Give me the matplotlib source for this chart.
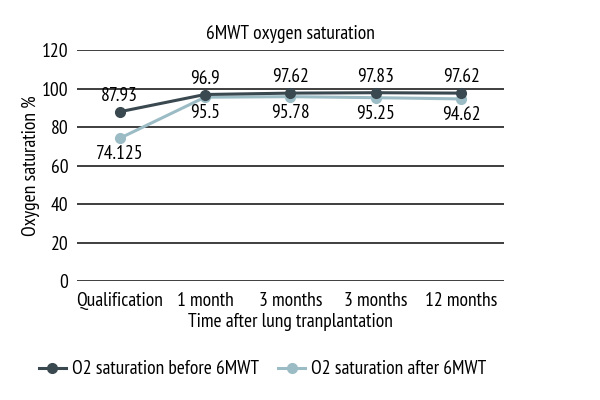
import matplotlib
matplotlib.use("Agg")
import matplotlib.pyplot as plt

# data
categories = ["Qualification", "1 month", "3 months", "3 months", "12 months"]
before = [87.93, 96.9, 97.62, 97.83, 97.62]
after = [74.125, 95.5, 95.78, 95.25, 94.62]
before_labels = ["87.93", "96.9", "97.62", "97.83", "97.62"]
after_labels = ["74.125", "95.5", "95.78", "95.25", "94.62"]
yticks = [0, 20, 40, 60, 80, 100, 120]

plt.rcParams["font.family"] = ["PT Sans Narrow", "Open Sans Condensed", "DejaVu Sans"]
FS = 14

DARK = "#3a4850"
LIGHT = "#9bbcc5"

fig = plt.figure(figsize=(6, 4), dpi=100)
ax = fig.add_axes([0.128, 0.297, 0.712, 0.578])

x = list(range(len(categories)))
ax.plot(x, before, color=DARK, lw=2.2, marker="o", ms=7, label="O2 saturation before 6MWT", zorder=4)
ax.plot(x, after, color=LIGHT, lw=2.2, marker="o", ms=7, label="O2 saturation after 6MWT", zorder=3)

for xi, v, s in zip(x, before, before_labels):
    ax.annotate(s, (xi, v), xytext=(0, 5), textcoords="offset points",
                ha="center", va="bottom", fontsize=FS)
for xi, v, s in zip(x, after, after_labels):
    ax.annotate(s, (xi, v), xytext=(0, -5), textcoords="offset points",
                ha="center", va="top", fontsize=FS)

ax.set_xlim(-0.5, len(categories) - 0.5)
ax.set_ylim(0, 120)
ax.set_yticks(yticks)
ax.set_xticks(x)
ax.set_xticklabels(categories)
ax.yaxis.grid(True, color="#1e1e1e", lw=1.2)
ax.set_axisbelow(True)
for sp in ax.spines.values():
    sp.set_visible(False)
ax.tick_params(length=0, labelsize=FS, pad=6)
ax.tick_params(axis="x", pad=8)

ax.set_title("6MWT oxygen saturation", fontsize=FS, pad=8)
ax.set_xlabel("Time after lung tranplantation", fontsize=FS, labelpad=2)
ax.set_ylabel("Oxygen saturation %", fontsize=FS)
ax.yaxis.set_label_coords(-0.087, 0.5)

fig.legend(loc="lower left", bbox_to_anchor=(0.035, 0.01), ncol=2, frameon=False,
           fontsize=FS, handlelength=1.4, columnspacing=1.0, handletextpad=0.3)

fig.savefig("out.png", dpi=100)
